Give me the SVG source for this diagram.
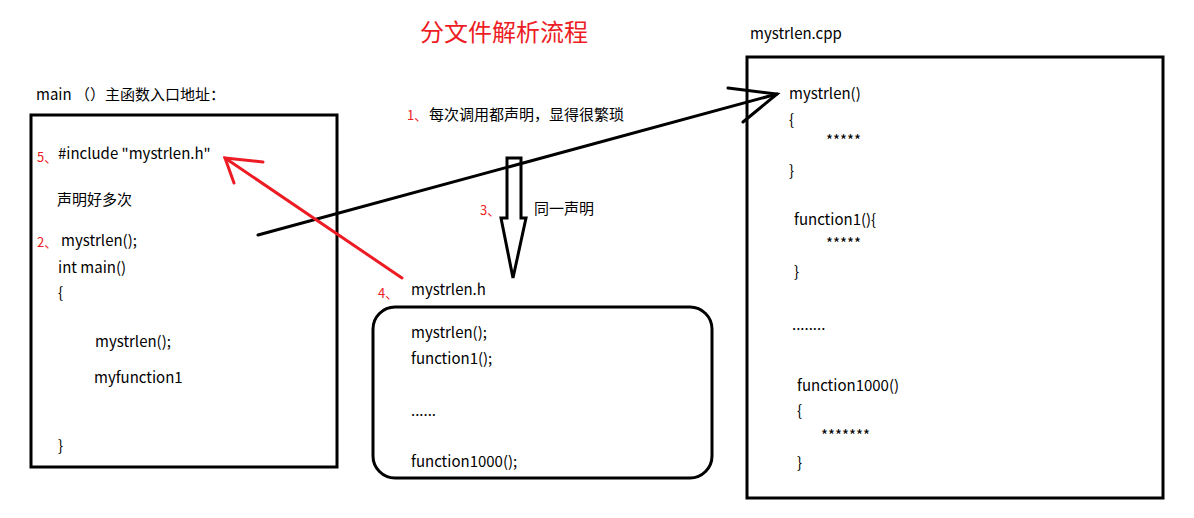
<svg xmlns="http://www.w3.org/2000/svg" width="1194" height="518" viewBox="0 0 1194 518">
<style>
text{font-family:"Noto Sans CJK SC","Noto Sans",sans-serif;font-size:15px;fill:#000}
.r{fill:#ed1c24;font-size:13px}
.t{font-size:24px;fill:#ed1c24}
.box{fill:none;stroke:#000;stroke-width:3}
.bl{fill:none;stroke:#000;stroke-width:3;stroke-linecap:round}
.rd{fill:none;stroke:#ed1c24;stroke-width:3;stroke-linecap:round}
</style>
<rect width="1194" height="518" fill="#fff"/>
<text class="t" x="420" y="41">分文件解析流程</text>
<g id="main-node">
<text x="36" y="100">main （）主函数入口地址：</text>
<rect class="box" x="31" y="115" width="306" height="352"/>
<text class="r" x="37" y="162">5、</text>
<text x="58" y="159">#include "mystrlen.h"</text>
<text x="57" y="205">声明好多次</text>
<text class="r" x="37" y="247">2、</text>
<text x="61" y="246">mystrlen();</text>
<text x="58" y="273">int main()</text>
<text x="58" y="298">{</text>
<text x="95" y="347">mystrlen();</text>
<text x="94" y="383">myfunction1</text>
<text x="58" y="451">}</text>
</g>
<g id="header-node">
<text class="r" x="378" y="298">4、</text>
<text x="411" y="295">mystrlen.h</text>
<rect class="box" x="373" y="307" width="339" height="171" rx="22"/>
<text x="411" y="338">mystrlen();</text>
<text x="411" y="364">function1();</text>
<text x="411" y="416">......</text>
<text x="411" y="467">function1000();</text>
</g>
<g id="cpp-node">
<text x="750" y="39">mystrlen.cpp</text>
<rect class="box" x="747" y="57" width="416" height="441"/>
<text x="789" y="99">mystrlen()</text>
<text x="789" y="125">{</text>
<text x="826" y="146">*****</text>
<text x="789" y="176">}</text>
<text x="794" y="225">function1(){</text>
<text x="826" y="249">*****</text>
<text x="794" y="277">}</text>
<text x="792" y="330">........</text>
<text x="797" y="391">function1000()</text>
<text x="797" y="416">{</text>
<text x="821" y="441">*******</text>
<text x="797" y="468">}</text>
</g>
<g id="connectors">
<line class="bl" x1="258" y1="235" x2="777" y2="94"/>
<polyline class="bl" points="728,88 777,94 743,122"/>
<text class="r" x="407" y="120">1、</text>
<text x="429" y="120">每次调用都声明，显得很繁琐</text>
<polygon class="box" stroke-linejoin="miter" points="507,158 521,158 521,218 526,218 513,278 501,218 507,218"/>
<text class="r" x="480" y="215">3、</text>
<text x="534" y="214">同一声明</text>
<line class="rd" x1="402" y1="278" x2="225" y2="158"/>
<polyline class="rd" points="263,162 225,158 234,183"/>
</g>
</svg>
